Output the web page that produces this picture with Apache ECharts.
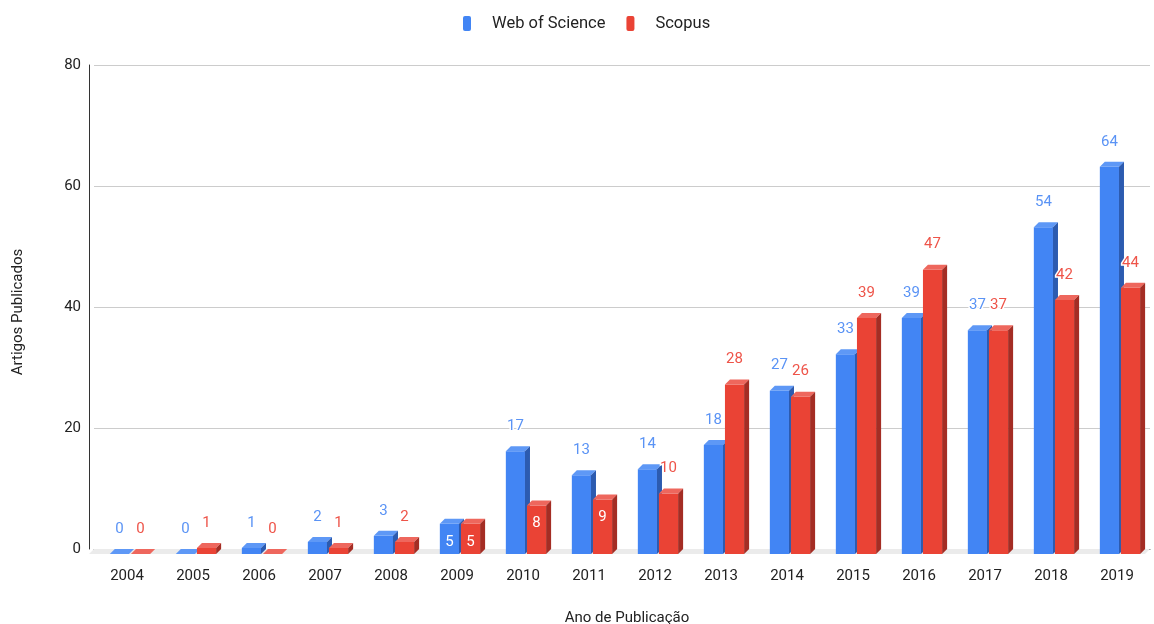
<!DOCTYPE html>
<html>
<head>
<meta charset="utf-8">
<script src="https://cdn.jsdelivr.net/npm/echarts@6/dist/echarts.min.js"></script>
<style>
html,body{margin:0;padding:0;background:#fff;}
#chart{width:1154px;height:624px;}
</style>
</head>
<body>
<div id="chart"></div>
<script>
const categories = ['2004','2005','2006','2007','2008','2009','2010','2011','2012','2013','2014','2015','2016','2017','2018','2019'];
const webOfScience = [0,0,1,2,3,5,17,13,14,18,27,33,39,37,54,64];
const scopus = [0,1,0,1,2,5,8,9,10,28,26,39,47,37,42,44];
const wosInsideLabels = ['2009'];
const scopusInsideLabels = ['2009','2010','2011'];
const yTicks = [0,20,40,60,80];

const FONT = 'Roboto';
const styles = [
  {front:'#4285F4', top:'#5E98F6', side:'#2C5BB0', label:'#5A93F5', offset:-0.26},
  {front:'#EA4335', top:'#EE675D', side:'#A42D24', label:'#EE5449', offset:0.06}
];
const D = 5;

function renderBar(params, api) {
  const s = styles[params.seriesIndex - 1];
  const idx = api.value(0), v = api.value(1), inside = api.value(2);
  const topPt = api.coord([idx, v]);
  const basePt = api.coord([idx, 0]);
  const band = api.size([1, 0])[0];
  const w = band * 0.29;
  const fl = basePt[0] + band * s.offset;
  const ft = topPt[1] + D, fb = basePt[1] + D;
  const children = [
    {type:'rect', shape:{x:fl, y:ft, width:w, height:fb - ft}, style:{fill:s.front}},
    {type:'polygon', shape:{points:[[fl, ft],[fl + w, ft],[fl + w + D, ft - D],[fl + D, ft - D]]}, style:{fill:s.top}},
    {type:'polygon', shape:{points:[[fl + w, ft],[fl + w + D, ft - D],[fl + w + D, fb - D],[fl + w, fb]]}, style:{fill:s.side}}
  ];
  const label = String(v);
  if (inside) {
    children.push({type:'text', z2:10, style:{text:label, x:fl + w / 2, y:ft + 18, align:'center', verticalAlign:'middle', fill:'#fff', font:'15px ' + FONT}});
  } else {
    children.push({type:'text', z2:10, style:{text:label, x:fl + w / 2, y:ft - 25, align:'center', verticalAlign:'middle', fill:s.label, font:'15px ' + FONT, stroke:'#fff', lineWidth:3}});
  }
  return {type:'group', children: children};
}

function renderFloor(params, api) {
  const cs = params.coordSys;
  const b = cs.y + cs.height;
  const l = cs.x, r = cs.x + cs.width;
  return {type:'polygon', shape:{points:[[l, b],[r, b],[r - D, b + D],[l - D, b + D]]}, style:{fill:'#ebebeb'}};
}

const chart = echarts.init(document.getElementById('chart'));
chart.setOption({
  animation:false,
  textStyle:{fontFamily:FONT},
  legend:{
    top:10, left:458, itemWidth:8, itemHeight:15, itemGap:21,
    textStyle:{fontSize:16.5, color:'#222', fontFamily:FONT, padding:[0,0,0,16]},
    data:[
      {name:'Web of Science', icon:'roundRect', itemStyle:{color:'#4285F4'}},
      {name:'Scopus', icon:'roundRect', itemStyle:{color:'#EA4335'}}
    ]
  },
  grid:{left:94, right:4, top:65, bottom:75, containLabel:false, outerBoundsMode:'none'},
  xAxis:{
    type:'category', data:categories,
    axisTick:{show:false},
    axisLine:{show:true, lineStyle:{color:'#666', width:1}},
    axisLabel:{color:'#222', fontSize:15, margin:20, fontFamily:FONT},
    name:'Ano de Publicação', nameLocation:'middle', nameGap:62,
    nameTextStyle:{color:'#222', fontSize:15, fontFamily:FONT, padding:[0,0,0,10]}
  },
  yAxis:{
    type:'value', min:yTicks[0], max:yTicks[yTicks.length-1], interval:20, offset:5,
    axisLine:{show:true, lineStyle:{color:'#333', width:1}},
    axisTick:{show:false},
    axisLabel:{color:'#222', fontSize:15, margin:8, fontFamily:FONT},
    splitLine:{lineStyle:{color:'#cccccc'}},
    name:'Artigos Publicados', nameLocation:'middle', nameGap:63,
    nameTextStyle:{color:'#222', fontSize:15, fontFamily:FONT, padding:[0,10,0,0]}
  },
  series:[
    {type:'custom', name:'floor', renderItem:renderFloor, data:[[0,0]], silent:true, z:1, encode:{x:0,y:1}},
    {type:'custom', name:'Web of Science', renderItem:renderBar, z:3, clip:false,
      itemStyle:{color:'#4285F4'}, encode:{x:0,y:1},
      data:categories.map((c,i)=>[i, webOfScience[i], wosInsideLabels.includes(c)?1:0])},
    {type:'custom', name:'Scopus', renderItem:renderBar, z:4, clip:false,
      itemStyle:{color:'#EA4335'}, encode:{x:0,y:1},
      data:categories.map((c,i)=>[i, scopus[i], scopusInsideLabels.includes(c)?1:0])}
  ]
});
</script>
</body>
</html>
